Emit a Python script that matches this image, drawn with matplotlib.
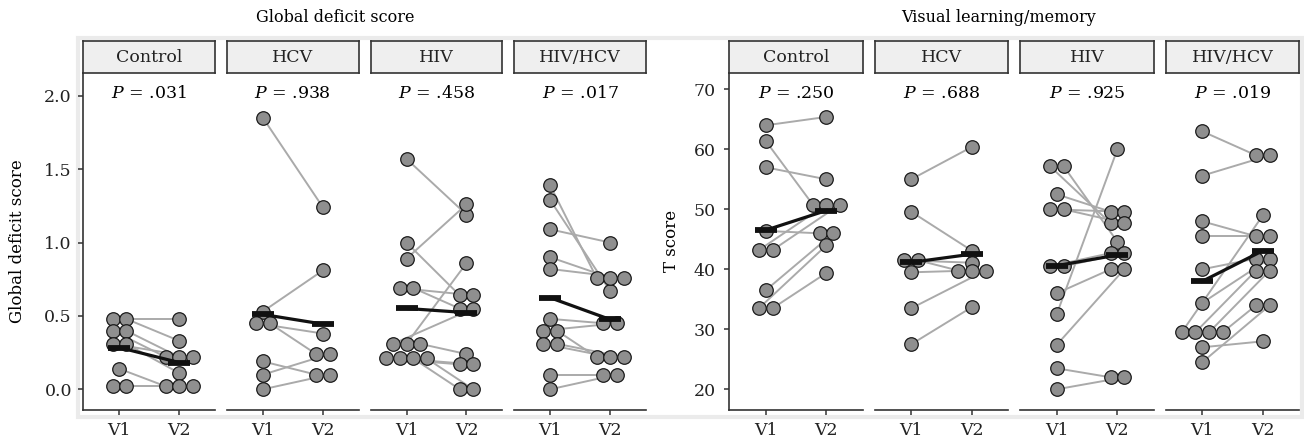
import numpy as np
import matplotlib.pyplot as plt
from matplotlib.patches import Rectangle

plt.rcParams['font.family'] = 'DejaVu Serif'
plt.rcParams['mathtext.fontset'] = 'dejavuserif'

groups = ["Control", "HCV", "HIV", "HIV/HCV"]

# Global deficit score, paired by position (V1[i] -> V2[i])
gds_v1 = [
    [0.48, 0.48, 0.40, 0.40, 0.31, 0.31, 0.14, 0.02, 0.02],
    [1.85, 0.53, 0.45, 0.45, 0.19, 0.10, 0.00],
    [1.57, 1.00, 0.89, 0.69, 0.69, 0.31, 0.31, 0.31, 0.21, 0.21, 0.21, 0.21],
    [1.39, 1.29, 1.09, 0.90, 0.82, 0.48, 0.40, 0.40, 0.31, 0.31, 0.10, 0.00],
]
gds_v2 = [
    [0.48, 0.33, 0.22, 0.22, 0.22, 0.11, 0.02, 0.02, 0.02],
    [1.24, 0.81, 0.38, 0.24, 0.10, 0.24, 0.10],
    [1.19, 0.64, 1.26, 0.64, 0.55, 0.55, 0.86, 0.24, 0.17, 0.17, 0.00, 0.00],
    [0.76, 0.67, 1.00, 0.76, 0.76, 0.45, 0.45, 0.22, 0.22, 0.22, 0.10, 0.10],
]
gds_p = [".031", ".938", ".458", ".017"]

# Visual learning/memory T scores
vlm_v1 = [
    [64.0, 61.4, 57.0, 46.4, 43.2, 43.2, 36.5, 33.5, 33.5],
    [55.0, 49.6, 41.5, 41.5, 39.5, 33.5, 27.5],
    [57.2, 57.2, 52.5, 50.0, 50.0, 40.5, 40.5, 36.0, 32.5, 27.4, 23.5, 20.0],
    [63.0, 55.6, 48.0, 45.5, 40.0, 34.4, 29.5, 29.5, 29.5, 29.5, 27.0, 24.5],
]
vlm_v2 = [
    [65.4, 50.8, 55.0, 46.0, 50.8, 50.8, 46.0, 44.0, 39.4],
    [60.4, 43.1, 41.1, 39.8, 39.8, 39.8, 33.7],
    [47.7, 44.6, 49.6, 49.6, 47.7, 42.7, 42.7, 40.0, 60.0, 40.0, 22.0, 22.0],
    [59.0, 59.0, 45.5, 45.5, 41.8, 41.8, 49.0, 39.8, 39.8, 34.0, 28.0, 34.0],
]
vlm_p = [".250", ".688", ".925", ".019"]

W, H = 1304, 444
fig = plt.figure(figsize=(W / 100, H / 100), dpi=100)


def px_axes(x0, y0, x1, y1):
    return fig.add_axes([x0 / W, 1 - y1 / H, (x1 - x0) / W, (y1 - y0) / H])


def dodge(vals, d):
    # put tied values side by side
    out = np.zeros(len(vals))
    for v in set(vals):
        idx = [i for i, u in enumerate(vals) if u == v]
        n = len(idx)
        for k, i in enumerate(idx):
            out[i] = (k - (n - 1) / 2) * d
    return out


# light grey frame around the facets
fig.add_artist(Rectangle((77.5 / W, 1 - 416.8 / H), (1302 - 77.5) / W,
                         (416.8 - 38.3) / H, transform=fig.transFigure,
                         fill=False, ec='#ebebeb', lw=3.0, zorder=0))

dark = '#333333'
top, bottom = 73.3, 410
panels = [
    dict(v1=gds_v1, v2=gds_v2, p=gds_p, left=83.3, w=132, gap=11.6,
         ylim=(-0.141, 2.153), yticks=[0, 0.5, 1.0, 1.5, 2.0],
         fmt='{:.1f}', pad=4.8),
    dict(v1=vlm_v1, v2=vlm_v2, p=vlm_p, left=729.3, w=133.5, gap=12,
         ylim=(16.55, 72.67), yticks=[20, 30, 40, 50, 60, 70],
         fmt='{:.0f}', pad=6.5),
]

for pan in panels:
    for j, g in enumerate(groups):
        x0 = pan['left'] + j * (pan['w'] + pan['gap'])
        x1 = x0 + pan['w']
        ax = px_axes(x0, top, x1, bottom)
        ax.patch.set_visible(False)
        ax.set_xlim(0.4, 2.6)
        ax.set_ylim(*pan['ylim'])
        v1 = pan['v1'][j]
        v2 = pan['v2'][j]
        xa = 1 + dodge(v1, 0.225)
        xb = 2 + dodge(v2, 0.225)
        for a, b, c, e in zip(xa, v1, xb, v2):
            ax.plot([a, c], [b, e], color='#aaaaaa', lw=1.4, zorder=1)
        ax.scatter(xa, v1, s=95, c='#8f8f8f', edgecolors='#1a1a1a',
                   linewidths=0.9, zorder=2)
        ax.scatter(xb, v2, s=95, c='#8f8f8f', edgecolors='#1a1a1a',
                   linewidths=0.9, zorder=2)
        m = [np.mean(v1), np.mean(v2)]
        ax.plot([1, 2], m, color='#111111', lw=2.3, zorder=3)
        ax.plot([1, 2], m, ls='none', marker='_', ms=16, mew=4.2,
                color='#111111', zorder=3)
        ax.text(1.5, 0.94, r'$P$ = ' + pan['p'][j], transform=ax.get_xaxis_transform(),
                ha='center', va='center', fontsize=12.5)

        for s in ['top', 'right']:
            ax.spines[s].set_visible(False)
        for s in ['left', 'bottom']:
            ax.spines[s].set_color(dark)
            ax.spines[s].set_linewidth(1.2)
        ax.set_xticks([1, 2])
        ax.set_xticklabels(['V1', 'V2'])
        ax.tick_params(axis='x', length=3.4, width=1.1, color=dark, pad=5.5,
                       labelsize=12.5, labelcolor='#222222')
        if j == 0:
            ax.set_yticks(pan['yticks'])
            ax.set_yticklabels([pan['fmt'].format(t) for t in pan['yticks']])
            ax.tick_params(axis='y', length=3.4, width=1.1, color=dark,
                           pad=pan['pad'], labelsize=12.5, labelcolor='#222222')
        else:
            ax.spines['left'].set_visible(False)
            ax.set_yticks([])

        sax = px_axes(x0, 40.7, x1, top)
        sax.set_facecolor('#efefef')
        sax.set_xticks([])
        sax.set_yticks([])
        for s in sax.spines.values():
            s.set_color(dark)
            s.set_linewidth(1.2)
        sax.text(0.5, 0.47, g, ha='center', va='center', fontsize=12.5,
                 transform=sax.transAxes, color='#222222')

fig.text(335 / W, 1 - 17 / H, 'Global deficit score', ha='center', va='center',
         fontsize=11.5)
fig.text(999 / W, 1 - 17 / H, 'Visual learning/memory', ha='center',
         va='center', fontsize=11.5)
fig.text(18 / W, 1 - 241 / H, 'Global deficit score', rotation=90,
         ha='center', va='center', fontsize=12)
fig.text(672 / W, 1 - 241 / H, 'T score', rotation=90, ha='center',
         va='center', fontsize=12)

fig.savefig('out.png', dpi=100)
